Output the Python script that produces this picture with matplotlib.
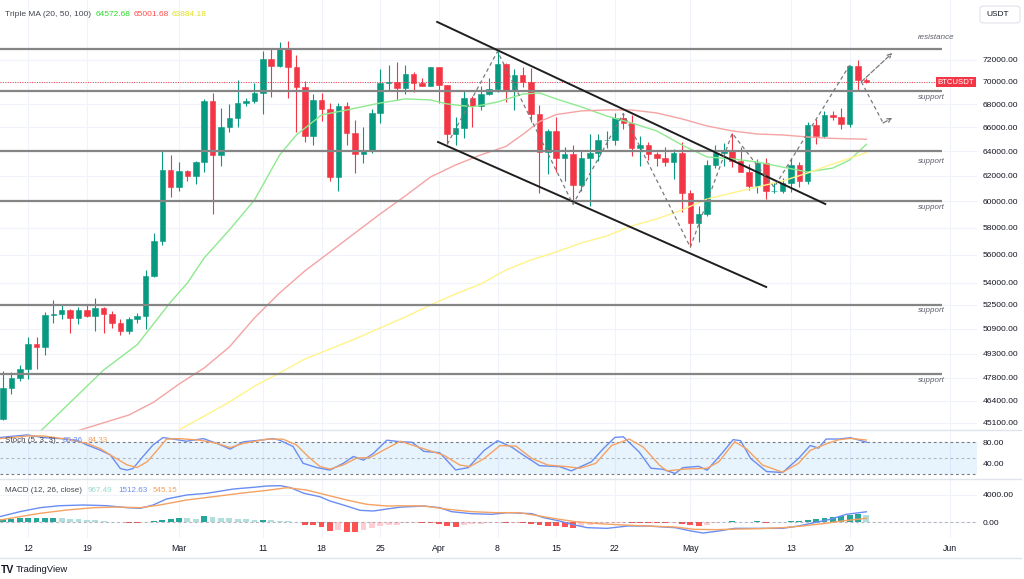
import matplotlib
matplotlib.use("Agg")
import matplotlib.pyplot as plt
from matplotlib.lines import Line2D
from matplotlib.patches import FancyBboxPatch
from matplotlib.ticker import NullLocator, NullFormatter

plt.rcParams["font.family"] = ["Liberation Sans", "DejaVu Sans"]

# daily BTCUSDT candles, bar 0 = 9 Feb ... bar 103 = 22 May
opens = [45288, 47132, 47751, 48299, 49917, 49699, 51795, 51880, 52124, 51642,
         52137, 51774, 52258, 51849, 51288, 50745, 51568, 51728, 54476, 57037,
         62432, 61130, 62387, 61987, 63113, 68245, 63724, 66074, 66823, 68124,
         68313, 68955, 72078, 71452, 73072, 71388, 69499, 65300, 68393, 67609,
         61937, 67840, 65501, 63796, 64037, 67211, 69880, 69988, 69455, 70744,
         69892, 69645, 71333, 69702, 65446, 65980, 68508, 67837, 68896, 69360,
         71620, 69146, 70631, 70006, 67116, 63924, 65661, 63419, 63793, 61277,
         63470, 63818, 64940, 64941, 66819, 66414, 64289, 64499, 63770, 63462,
         63118, 63866, 60672, 58364, 59060, 62882, 63892, 64031, 63162, 62334,
         61187, 63049, 60792, 60793, 61448, 62901, 61552, 66206, 65232, 67024,
         66915, 66274, 71446, 70137]
highs = [48200, 48170, 48592, 50334, 50368, 52043, 52816, 52572, 52191, 52356,
         52488, 52985, 52366, 52065, 51550, 51684, 51950, 54938, 57588, 64000,
         63676, 63114, 62433, 63231, 68499, 69000, 67637, 67985, 70136, 68541,
         69887, 72800, 73000, 73650, 73777, 72419, 70043, 68904, 68956, 68124,
         68100, 68240, 66650, 65999, 67622, 71150, 71561, 71769, 71552, 70913,
         70355, 71377, 71342, 69708, 66914, 69291, 68725, 69629, 70326, 72797,
         71758, 71172, 71305, 71256, 67932, 65840, 66868, 64365, 64499, 64117,
         65450, 65419, 65695, 67233, 67199, 67075, 65297, 64789, 63923, 64370,
         64228, 64734, 60841, 59625, 63320, 64544, 64646, 65500, 64390, 62995,
         63404, 63469, 61490, 61850, 63450, 63092, 66444, 66752, 67451, 67400,
         67700, 71515, 71979, 70300]
lows = [45242, 46800, 47558, 47710, 48300, 49225, 51314, 51566, 50625, 51200,
        51677, 50760, 50625, 50940, 50520, 50585, 51285, 50901, 54451, 56691,
        60364, 60777, 61561, 61320, 62300, 59005, 62787, 65600, 66000, 67861,
        68094, 67194, 68620, 71333, 68555, 65600, 64780, 64533, 66565, 61555,
        60775, 64529, 62260, 63000, 63825, 66385, 69280, 68359, 68903, 69076,
        69601, 69624, 68110, 64586, 64493, 65064, 66011, 67491, 68824, 69043,
        68210, 67518, 69567, 66500, 60660, 62134, 62274, 61600, 59768, 60803,
        59600, 63172, 64237, 64500, 65864, 63589, 62794, 63322, 62824, 62781,
        61765, 59191, 56552, 56911, 58848, 62599, 62822, 62700, 62285, 60866,
        60648, 60187, 60633, 60630, 60750, 61123, 61320, 64602, 65107, 66600,
        65857, 66060, 69162, 69900]
closes = [47132, 47751, 48299, 49917, 49699, 51795, 51880, 52124, 51642, 52137,
          51774, 52258, 51849, 51288, 50745, 51568, 51728, 54476, 57037, 62432,
          61130, 62387, 61987, 63113, 68245, 63724, 66074, 66823, 68124, 68313,
          68955, 72078, 71452, 73072, 71388, 69499, 65300, 68393, 67609, 61937,
          67840, 65501, 63796, 64037, 67211, 69880, 69988, 69455, 70744, 69892,
          69645, 71333, 69702, 65446, 65980, 68508, 67837, 68896, 69360, 71620,
          69146, 70631, 70006, 67116, 63924, 65661, 63419, 63793, 61277, 63470,
          63818, 64940, 64941, 66819, 66414, 64289, 64499, 63770, 63462, 63118,
          63866, 60672, 58364, 59060, 62882, 63892, 64031, 63162, 62334, 61187,
          63049, 60792, 60793, 61448, 62901, 61552, 66206, 65232, 67024, 66915,
          66274, 71446, 70137, 70010]

# moving averages (bar index, price)
ma20_idx = [3, 5, 12, 16, 20, 22, 24, 27, 30, 33, 35, 38, 41, 45, 48, 51, 53, 56,
            59, 62, 64, 66, 69, 72, 75, 78, 81, 84, 87, 90, 93, 96, 99, 101, 103]
ma20_val = [44000, 44850, 48260, 49860, 52690, 54000, 55770, 57820, 60100, 63690,
            65360, 67070, 67500, 68110, 68470, 68380, 68030, 67770, 68200, 68900,
            69000, 68470, 67770, 66980, 66380, 65700, 64520, 63530, 63370, 63120,
            62710, 62310, 62630, 63280, 64572.68]
ma50_idx = [7, 10, 15, 18, 21, 24, 27, 30, 33, 36, 39, 42, 45, 48, 51, 54, 57, 60,
            62, 64, 66, 69, 72, 75, 78, 81, 84, 87, 90, 93, 96, 99, 103]
ma50_val = [44340, 44790, 45540, 46310, 47400, 48390, 49720, 51620, 53310, 54840,
            56200, 57600, 59030, 60420, 61910, 62880, 63700, 64400, 65400, 66500,
            67100, 67420, 67500, 67500, 67240, 66730, 66120, 65700, 65440, 65360,
            65190, 65070, 65001.68]
ma100_idx = [19, 21, 24, 27, 30, 33, 36, 39, 42, 45, 48, 51, 54, 57, 60, 63, 66,
             69, 72, 75, 78, 81, 84, 87, 90, 93, 96, 99, 103]
ma100_val = [44100, 44670, 45480, 46310, 47270, 48080, 48950, 49590, 50240, 50960,
             51680, 52490, 53240, 53930, 54910, 55630, 56200, 56860, 57370, 58120,
             58650, 59330, 60180, 60650, 61120, 61590, 62230, 62960, 63884.18]

# drawn levels and trend lines
sr_levels = [73000, 69200, 64000, 60000, 52500, 48000]
sr_labels = ["resistance", "support", "support", "support", "support", "support"]
channel_upper = ([51.8, 98.1], [75620, 59790])
channel_lower = ([51.9, 91.05], [64770, 53720])
zz_idx = [53, 59, 68, 74, 82, 87, 92, 101]
zz_px = [64586, 72797, 59768, 67199, 56552, 65500, 61100, 71515]
fc_up = ([102.4, 106.1], [70000, 72650])
fc_down = ([102.4, 105.0, 106.1], [70000, 66380, 66810])

price_ticks = [72000, 70000, 68000, 66000, 64000, 62000, 60000, 58000, 56000,
               54000, 52500, 50900, 49300, 47800, 46400, 45100]

# stochastic (5, 3, 3)
stoch_k_idx = [-0.4, 0.8, 2.9, 4.8, 6.8, 8.8, 10.0, 11.6, 12.8, 14.0, 14.8, 15.5,
               16.7, 17.9, 19.1, 19.9, 21.9, 23.9, 25.5, 27.1, 28.7, 30.7, 32.2,
               33.0, 34.6, 35.8, 37.4, 39.0, 40.6, 41.8, 43.0, 44.2, 45.8, 47.4,
               48.8, 50.2, 52.1, 54.0, 55.5, 57.4, 59.0, 60.7, 62.1, 64.0, 66.4,
               67.8, 70.2, 71.6, 73.0, 74.0, 75.9, 77.3, 78.7, 80.2, 81.1, 83.0,
               84.0, 85.9, 87.1, 88.0, 89.2, 91.1, 93.0, 94.9, 96.3, 97.3, 98.2,
               99.7, 101.1, 103.0]
stoch_k_val = [89, 91, 94, 89, 87, 84, 75, 65, 56, 30, 27, 30, 53, 75, 89, 87, 82,
               87, 78, 67, 81, 84, 87, 84, 72, 40, 32, 27, 40, 53, 46, 59, 84, 81,
               80, 62.7, 60.2, 27.4, 31.7, 64.5, 83.1, 70.7, 55.3, 35.5, 33.6, 25.6,
               42.9, 67.6, 89.3, 90.5, 61.4, 30.5, 28.7, 20.6, 31.7, 34.2, 26.8,
               61.4, 85, 83.1, 49.1, 24.3, 22.5, 49.1, 73.8, 68.9, 86.2, 86.2, 88.7,
               80.26]
stoch_d_idx = [-0.4, 2.9, 4.8, 7.6, 10.0, 11.6, 13.1, 14.8, 16.0, 17.2, 18.4, 19.5,
               21.1, 23.5, 25.5, 27.1, 28.7, 31.5, 33.4, 35.0, 36.6, 37.8, 39.0,
               40.6, 42.2, 43.8, 45.4, 47.4, 50.2, 52.6, 54.5, 55.7, 57.4, 59.3,
               61.2, 63.1, 65.0, 67.3, 68.8, 70.7, 72.6, 74.7, 76.4, 78.3, 79.2,
               81.6, 84.0, 85.4, 87.3, 88.7, 90.6, 93.0, 94.9, 96.3, 98.2, 99.7,
               101.1, 103.0]
stoch_d_val = [87, 92, 92, 86, 78, 68, 53, 37, 32, 43, 65, 86, 87, 84, 78, 70, 78,
               86, 86, 75, 50, 34, 29, 37, 50, 51, 65, 82, 67.6, 55.3, 36.7, 33.6,
               49.1, 73.8, 72.6, 49.1, 36.7, 33.6, 30.5, 39.8, 73.8, 86.2, 70.7,
               36.7, 25.6, 29.3, 30.5, 42.9, 81.2, 67.6, 36.7, 23.1, 39.8, 64.5,
               76.9, 84.9, 87.4, 84.33]

# MACD (12, 26, close)
macd_idx = [-0.4, 2.0, 4.4, 6.8, 9.6, 12.4, 14.8, 16.4, 17.9, 19.5, 21.9, 24.3,
            27.5, 29.9, 31.5, 33.1, 34.3, 35.9, 37.8, 39.0, 40.6, 42.6, 44.2, 45.8,
            47.4, 50.2, 52.1, 53.5, 55.9, 58.3, 60.2, 63.1, 64.5, 66.4, 67.8, 69.7,
            72.1, 74.5, 76.8, 80.2, 82.1, 83.5, 85.4, 87.3, 90.2, 93.0, 94.9, 96.8,
            98.7, 100.6, 103.0]
macd_val = [785, 1525, 2118, 2415, 2518, 2415, 2118, 2025, 2518, 3406, 4000, 4250,
            4888, 5138, 5332, 5380, 5085, 4250, 3752, 3110, 2518, 1728, 1630, 1925,
            2200, 2370, 2124, 1531, 1235, 1136, 1383, 1235, 642, 148, -346, -840,
            -939, -593, -593, -840, -1334, -1630, -1334, -939, -939, -939, -593,
            -99, 395, 1136, 1512.63]
sig_idx = [-0.4, 2.0, 4.4, 7.6, 10.8, 13.6, 16.4, 18.7, 21.9, 25.1, 28.3, 31.5,
           33.9, 36.2, 38.6, 41.0, 43.4, 45.8, 47.4, 50.2, 53.1, 55.9, 58.8, 61.6,
           64.0, 66.4, 68.3, 71.1, 74.0, 76.8, 80.2, 82.5, 85.0, 87.8, 90.2, 93.0,
           95.4, 97.8, 100.1, 103.0]
sig_val = [296, 785, 1280, 1777, 2118, 2220, 2118, 2518, 3258, 3752, 4250, 4690,
           5085, 4740, 4000, 3258, 2616, 2370, 2400, 2370, 1877, 1531, 1383, 1383,
           889, 395, 49, -247, -445, -593, -741, -1087, -1136, -1037, -988, -840,
           -593, -247, 148, 545.15]
hist = [420, 480, 530, 570, 600, 620, 640, 580, 500, 420,
        340, 260, 160, 60, -50, -90, -150, -40, 120, 300,
        480, 600, 520, 460, 900, 700, 600, 520, 450, 380,
        320, 360, 280, 200, 100, 30, -400, -500, -800, -1300,
        -1250, -1450, -1480, -1150, -850, -650, -500, -380, -200, -120,
        -180, -220, -350, -600, -680, -450, -350, -250, -180, -120,
        -150, -100, -150, -300, -450, -550, -650, -750, -850, -650,
        -500, -350, -220, -120, -80, -100, -120, -130, -140, -150,
        -100, -250, -450, -600, -400, -150, 50, 80, 60, 40,
        90, -80, -30, 60, 80, 150, 280, 420, 600, 700,
        950, 1100, 1150, 967.49]

date_idx = [3, 10, 21, 31, 38, 45, 52, 59, 66, 73, 82, 94, 101, 113]
date_lbl = ["12", "19", "Mar", "11", "18", "25", "Apr", "8", "15", "22", "May",
            "13", "20", "Jun"]

W, H = 1024, 579
UP, DOWN = "#089981", "#F23645"
GRID = "#F0F3FA"
TEXT = "#131722"
K_COL, D_COL = "#6A8DF3", "#F5A262"


def rect(x0, y0, x1, y1):
    return [x0 / W, 1 - y1 / H, (x1 - x0) / W, (y1 - y0) / H]


def main() -> None:
    fig = plt.figure(figsize=(W / 100, H / 100), dpi=100)

    def ftext(x, y, s, **kw):
        kw.setdefault("va", "center")
        kw.setdefault("fontsize", 5.8)
        fig.text(x / W, 1 - y / H, s, **kw)

    ax = fig.add_axes(rect(0, 0, 977, 430))
    st = fig.add_axes(rect(0, 430, 977, 479))
    md = fig.add_axes(rect(0, 479, 977, 538))

    for a in (ax, st, md):
        a.set_xlim(-0.36, 116.2)
        for sp in a.spines.values():
            sp.set_visible(False)
        a.set_xticks(date_idx)
        a.grid(True, axis="x", color=GRID, lw=0.8)
        a.set_axisbelow(True)
        a.yaxis.tick_right()
        a.tick_params(axis="both", length=0, labelsize=6.1, labelcolor=TEXT)
        a.tick_params(axis="y", pad=4.3)
    ax.set_xticklabels([])
    st.set_xticklabels([])
    md.set_xticklabels(date_lbl)
    md.tick_params(axis="x", pad=4, labelsize=6.3)

    # price panel
    ax.set_yscale("log")
    ax.set_ylim(44670, 77790)
    ax.yaxis.set_minor_locator(NullLocator())
    ax.yaxis.set_minor_formatter(NullFormatter())
    ax.set_yticks(price_ticks)
    ax.set_yticklabels([f"{v:.2f}" for v in price_ticks])
    ax.grid(True, axis="y", color=GRID, lw=0.8)

    xs = list(range(len(opens)))
    cols = [UP if c >= o else DOWN for o, c in zip(opens, closes)]
    ax.vlines(xs, lows, highs, colors=cols, lw=0.8, zorder=3)
    ax.bar(xs, [abs(c - o) for o, c in zip(opens, closes)],
           bottom=[min(o, c) for o, c in zip(opens, closes)],
           width=0.66, color=cols, edgecolor=cols, lw=0.4, zorder=4)

    ax.plot(ma20_idx, ma20_val, color="#8EEA8E", lw=1.0, zorder=5)
    ax.plot(ma50_idx, ma50_val, color="#F5A3A3", lw=1.0, zorder=5)
    ax.plot(ma100_idx, ma100_val, color="#FFF38A", lw=1.0, zorder=5)

    sr_end = (942 - 3) / 8.38
    ax.hlines(sr_levels, -0.36, sr_end, color="#858585", lw=1.6, zorder=6)
    sr_dy = [-12, 6.6, 10.5, 6.3, 5.5, 6.2]
    for lv, lb, dy in zip(sr_levels, sr_labels, sr_dy):
        ax.annotate(lb, xy=((918 - 3) / 8.38, lv), xytext=(0, -dy * 0.72),
                    textcoords="offset points", fontsize=5.8, style="italic",
                    color="#5D606B", va="center", ha="left")

    ax.axhline(closes[-1], xmax=936 / 977, color=DOWN, lw=0.7,
               ls=(0, (1, 1.5)), zorder=6)

    ax.plot(*channel_upper, color="#1E1E1E", lw=1.4, zorder=7)
    ax.plot(*channel_lower, color="#1E1E1E", lw=1.4, zorder=7)
    dash = (0, (3, 2.5))
    ax.plot(zz_idx, zz_px, color="#7A7A7A", lw=0.9, ls=dash, zorder=7)
    arrow = dict(arrowstyle="->", color="#7A7A7A", lw=0.9, ls="--",
                 shrinkA=0, shrinkB=0, mutation_scale=7)
    ax.annotate("", xy=(fc_up[0][1], fc_up[1][1]),
                xytext=(fc_up[0][0], fc_up[1][0]), arrowprops=arrow, zorder=7)
    ax.plot(fc_down[0][:2], fc_down[1][:2], color="#7A7A7A", lw=0.9, ls=dash,
            zorder=7)
    ax.annotate("", xy=(fc_down[0][2], fc_down[1][2]),
                xytext=(fc_down[0][1], fc_down[1][1]), arrowprops=arrow, zorder=7)

    # stochastic panel
    st.set_ylim(10.1, 103.4)
    st.axhspan(20, 80, color="#2196F3", alpha=0.1, lw=0)
    for lv, al in ((80, 1.0), (50, 0.5), (20, 1.0)):
        st.axhline(lv, color="#787B86", lw=0.8, ls=(0, (2.5, 2.5)), alpha=al)
    st.plot(stoch_k_idx, stoch_k_val, color=K_COL, lw=1.0)
    st.plot(stoch_d_idx, stoch_d_val, color=D_COL, lw=1.0)
    st.set_yticks([80, 40])
    st.set_yticklabels(["80.00", "40.00"])

    # MACD panel
    md.set_ylim(-2370, 6370)
    hcols = []
    for i, h in enumerate(hist):
        p = hist[i - 1] if i else h
        if h >= 0:
            hcols.append("#26A69A" if h >= p else "#B2DFDB")
        else:
            hcols.append("#FF5252" if h <= p else "#FFCDD2")
    md.bar(range(len(hist)), hist, width=0.7, color=hcols, zorder=2)
    md.axhline(0, color="#787B86", lw=0.8, ls=(0, (2.5, 2.5)), alpha=0.5)
    md.plot(macd_idx, macd_val, color=K_COL, lw=1.0, zorder=3)
    md.plot(sig_idx, sig_val, color=D_COL, lw=1.0, zorder=3)
    md.set_yticks([4000, 0])
    md.set_yticklabels(["4000.00", "0.00"])
    md.grid(True, axis="y", color=GRID, lw=0.8)

    # separators
    for yy in (430, 479, 558):
        fig.add_artist(Line2D([0, 1021 / W], [1 - yy / H] * 2, color="#E0E3EB",
                              lw=1, transform=fig.transFigure))

    # legends
    ftext(5, 14, "Triple MA (20, 50, 100)", color="#434651", fontsize=6.0)
    ftext(96, 14, "64572.68", color="#2BDB2B", fontsize=6.0)
    ftext(134, 14, "65001.68", color="#FF4B4B", fontsize=6.0)
    ftext(172, 14, "63884.18", color="#E3E01E", fontsize=6.0)
    ftext(5, 441, "Stoch (5, 3, 3)", color="#434651")
    ftext(63, 441, "80.26", color=K_COL)
    ftext(88, 441, "84.33", color=D_COL)
    ftext(5, 491, "MACD (12, 26, close)", color="#434651")
    ftext(88, 491, "967.49", color="#9AD8CF")
    ftext(118, 491, "1512.63", color=K_COL)
    ftext(153, 491, "545.15", color=D_COL)

    fig.add_artist(FancyBboxPatch((980 / W, 1 - 23 / H), 40 / W, 17 / H,
                                  boxstyle="round,pad=0,rounding_size=0.004",
                                  ec="#E0E3EB", fc="white", lw=0.8,
                                  transform=fig.transFigure))
    ftext(986, 14.5, "USDT", color=TEXT, fontsize=6)
    ftext(956, 82, "BTCUSDT", color="white", fontsize=5.6, ha="center",
          bbox=dict(boxstyle="square,pad=0.25", fc=DOWN, ec="none"))

    ftext(1, 570, "TV", color=TEXT, fontsize=7.5, fontweight="bold")
    ftext(16, 570, "TradingView", color=TEXT, fontsize=6.8)

    fig.savefig("out.png", dpi=100)


if __name__ == "__main__":
    main()
